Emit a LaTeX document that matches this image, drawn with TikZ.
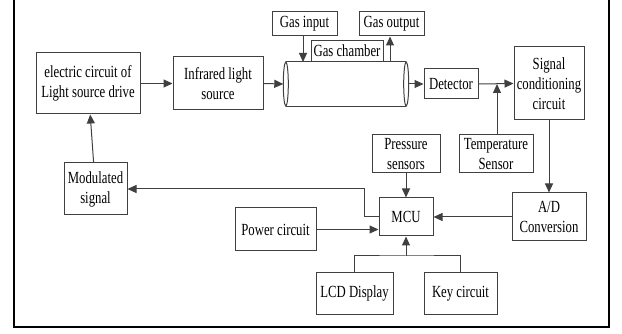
\documentclass[tikz,border=0pt]{standalone}
\usepackage{fontspec}
\setmainfont{Liberation Serif}[FakeStretch=0.75]
\usetikzlibrary{arrows.meta}
\definecolor{linegray}{RGB}{64,64,64}
\tikzset{
  box/.style={draw=linegray, line width=1pt, align=center, inner sep=1pt, font=\fontsize{17}{20}\selectfont},
  arr/.style={draw=linegray, line width=1pt, -{Triangle[length=9pt,width=8pt]}},
  link/.style={draw=linegray, line width=1pt}
}
\begin{document}
\begin{tikzpicture}[x=1pt,y=-1pt]
  \useasboundingbox (0,0) rectangle (622,334);
  % outer frame, open at the top
  \draw[line width=2pt] (14,-5) -- (14,327) -- (609,327) -- (609,-5);

  \node[box, minimum width=104, minimum height=61] (drive) at (88,83.5) {electric circuit of\\Light source drive};
  \node[box, minimum width=90, minimum height=53] (ir) at (218,83.5) {Infrared light\\source};
  \node[minimum width=120, minimum height=44, inner sep=0] (chamber) at (346,84) {};
  \draw[link] (chamber.north west) -- (chamber.north east) (chamber.south west) -- (chamber.south east);
  \draw[link] (chamber.west) ellipse (2.5 and 22) (chamber.east) ellipse (2.5 and 22);
  \node[box, minimum width=72, minimum height=21, anchor=south] (chlabel) at (347,62) {Gas chamber};
  \node[box, minimum width=65, minimum height=24] (gasin) at (304.5,24) {Gas input};
  \node[box, minimum width=65, minimum height=24] (gasout) at (391.5,24) {Gas output};
  \node[box, minimum width=54, minimum height=30] (det) at (451,84) {Detector};
  \node[box, minimum width=70, minimum height=73] (sig) at (549,83.5) {Signal\\conditioning\\circuit};
  \node[box, minimum width=68, minimum height=38] (press) at (406,154) {Pressure\\sensors};
  \node[box, minimum width=74, minimum height=38] (temp) at (496,154) {Temperature\\Sensor};
  \node[box, minimum width=54, minimum height=38] (mcu) at (406,217) {MCU};
  \node[box, minimum width=74, minimum height=48] (ad) at (549,217) {A/D\\Conversion};
  \node[box, minimum width=81, minimum height=43] (power) at (275.5,229.5) {Power circuit};
  \node[box, minimum width=63, minimum height=52] (mod) at (95.5,189) {Modulated\\signal};
  \node[box, minimum width=77, minimum height=41] (lcd) at (354.5,293.5) {LCD Display};
  \node[box, minimum width=73, minimum height=41] (key) at (460.5,293.5) {Key circuit};

  \coordinate (tin) at (303,62);
  \coordinate (tout) at (390,62);
  \coordinate (join) at (497,84);
  \coordinate (bus) at (406,256);

  \draw[arr] (drive) -- (ir);
  \draw[arr] (ir.east) -- ([xshift=-2.5pt]chamber.west);
  \draw[arr] ([xshift=2.5pt]chamber.east) -- (det.west);
  \draw[arr] (det.east) -- (sig.west);
  \draw[arr] (temp.north -| join) -- (join);
  \draw[arr] (gasin.south -| tin) -- (tin);
  \draw[arr] (tout) -- (gasout.south -| tout);
  \draw[arr] (sig) -- (ad);
  \draw[arr] (ad) -- (mcu);
  \draw[arr] (press) -- (mcu);
  \draw[arr] (power.east) -- (power.east -| mcu.west);
  \draw[arr] (mcu.west) -- ++(-14,0) |- (mod.east);
  \draw[arr] (mod) -- (drive);
  \draw[link] (lcd.north) |- (bus) -| (key.north);
  \draw[arr] (bus) -- (mcu.south);
\end{tikzpicture}
\end{document}
